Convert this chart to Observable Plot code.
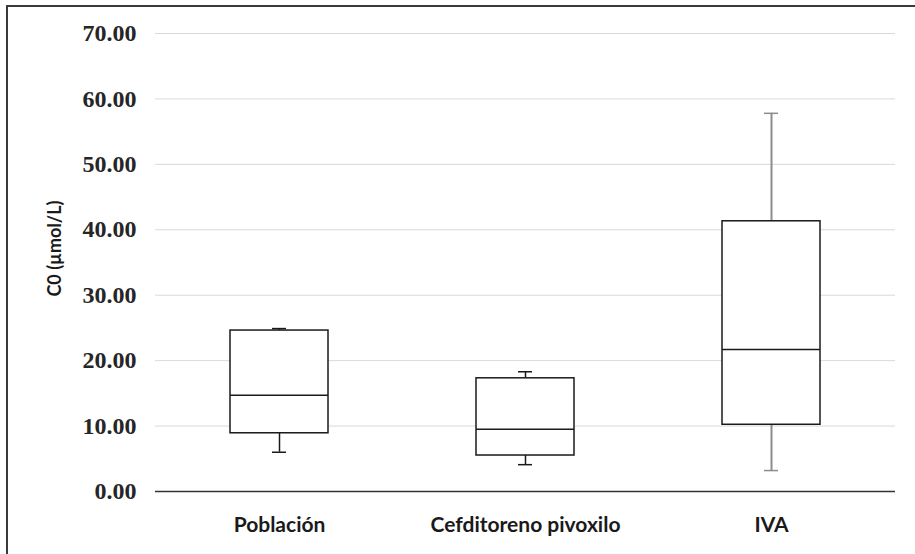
<!DOCTYPE html>
<html>
<head>
<meta charset="utf-8">
<script src="https://cdn.jsdelivr.net/npm/d3@7"></script>
<script src="https://cdn.jsdelivr.net/npm/@observablehq/plot@0.6"></script>
<style>
  html, body { margin: 0; padding: 0; background: #fff; overflow: hidden; }
  #wrap { position: relative; width: 915px; height: 554px; }
  #frame { position: absolute; left: 6px; top: 5px; width: 2000px; height: 2000px;
           border-left: 2px solid #3a3a3a; border-top: 2px solid #3a3a3a; pointer-events: none; }
  #chart { position: absolute; left: 0; top: 0; }
</style>
</head>
<body>
<div id="wrap"><div id="chart"></div><div id="frame"></div></div>
<script>
const categories = ["Población", "Cefditoreno pivoxilo", "IVA"];
const minVals    = [6.0, 4.1, 3.2];
const q1Vals     = [8.9, 5.5, 10.2];
const medianVals = [14.7, 9.5, 21.7];
const q3Vals     = [24.6, 17.3, 41.3];
const maxVals    = [24.9, 18.3, 57.8];
const yTicks     = [0, 10, 20, 30, 40, 50, 60, 70];
const yTitle     = "C0 (µmol/L)";

const rows = categories.map((c, i) => ({
  cat: c, min: minVals[i], q1: q1Vals[i], med: medianVals[i], q3: q3Vals[i], max: maxVals[i]
}));
const whiskerColor = d => d.cat === "IVA" ? "#8c8c8c" : "#1a1a1a";
const whiskerWidth = d => d.cat === "IVA" ? 2 : 1.5;

const chart = Plot.plot({
  width: 915,
  height: 554,
  marginLeft: 155,
  marginRight: 20,
  marginTop: 33,
  marginBottom: 63,
  style: { background: "transparent", color: "#262626" },
  x: { domain: categories, padding: 0, label: null },
  y: { domain: [0, 70], label: null },
  marks: [
    Plot.gridY(yTicks, { stroke: "#d9d9d9", strokeOpacity: 1, strokeWidth: 1 }),
    Plot.ruleY([0], { stroke: "#333", strokeWidth: 1.5 }),
    Plot.ruleX(rows, { x: "cat", y1: "q3", y2: "max", stroke: whiskerColor, strokeWidth: whiskerWidth }),
    Plot.ruleX(rows, { x: "cat", y1: "min", y2: "q1", stroke: whiskerColor, strokeWidth: whiskerWidth }),
    Plot.tickY(rows, { x: "cat", y: "max", stroke: whiskerColor, strokeWidth: 1.5, inset: 116 }),
    Plot.tickY(rows, { x: "cat", y: "min", stroke: whiskerColor, strokeWidth: 1.5, inset: 116 }),
    Plot.barY(rows, { x: "cat", y1: "q1", y2: "q3", fill: "white", stroke: "#1a1a1a", strokeWidth: 1.5, insetLeft: 74, insetRight: 74 }),
    Plot.tickY(rows, { x: "cat", y: "med", stroke: "#1a1a1a", strokeWidth: 1.5, inset: 74 }),
    Plot.axisY(yTicks, {
      tickSize: 0, tickPadding: 19, tickFormat: d3.format(".2f"), label: null,
      fontFamily: "Liberation Serif", fontWeight: "bold", fontSize: 24, fill: "#262626"
    }),
    Plot.axisX({
      tickSize: 0, tickPadding: 26, label: null,
      fontFamily: "Lato", fontWeight: "bold", fontSize: 21, fill: "#1a1a1a"
    }),
    Plot.text([yTitle], {
      frameAnchor: "left", text: d => d, rotate: -90, dx: -100, dy: -14,
      textAnchor: "middle", lineAnchor: "middle",
      fontFamily: "Lato", fontWeight: "bold", fontSize: 18, fill: "#1a1a1a"
    })
  ]
});
document.getElementById("chart").appendChild(chart);
</script>
</body>
</html>
